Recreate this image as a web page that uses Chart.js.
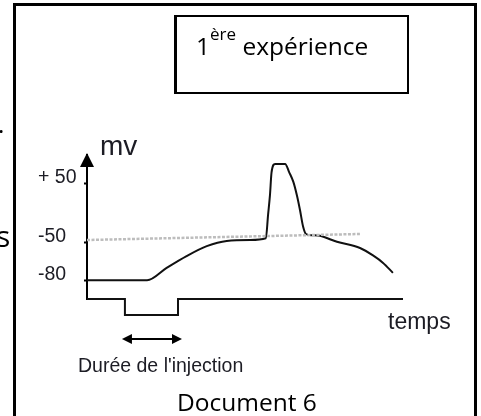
<!DOCTYPE html>
<html>
<head>
<meta charset="utf-8">
<script src="https://cdn.jsdelivr.net/npm/chart.js@4.4.1/dist/chart.umd.min.js"></script>
<style>
  body { margin: 0; background: #fff; overflow: hidden; }
  #page { position: relative; width: 481px; height: 416px; overflow: hidden; }
  #chart { position: absolute; left: 0; top: 0; }
  .frame { position: absolute; left: 13px; top: 3px; width: 458px; height: 430px;
    border: 3px solid #000; border-bottom: none; }
  .titlebox { position: absolute; left: 174px; top: 15px; width: 230px; height: 75px;
    border: 2px solid #000; border-left-width: 3px; }
  .txt { position: absolute; font-family: "Open Sans", sans-serif; color: #000;
    line-height: 24px; white-space: nowrap; }
  .txt sup { font-size: 17px; line-height: 0; vertical-align: 15px; }
</style>
</head>
<body>
<div id="page">
  <canvas id="chart" width="481" height="416"></canvas>
  <div class="frame"></div>
  <div class="titlebox"></div>
  <div class="txt" style="left:196px; top:34px; font-size:24.5px;">1<sup>ère</sup> expérience</div>
  <div class="txt" style="left:177px; top:390px; font-size:24.5px;">Document 6</div>
  <div class="txt" style="left:-2px; top:112px; font-size:24px;">.</div>
  <div class="txt" style="left:-4px; top:221px; font-size:30px; line-height:30px;">s</div>
</div>
<script>
// membrane potential (mV) against time (arbitrary units)
const timeValues = [0, 19, 25.2, 31.5, 37.9, 44.2, 51.6, 56.6, 57.3, 57.9, 58.4, 59.5, 62.7,
  64.0, 65.3, 66.4, 67.4, 68.4, 69.3, 71.2, 73.7, 79.1, 86.4, 90.5, 93.7, 96.8];
const potentialValues = [-80, -80, -70, -60.5, -52.5, -46.5, -45, -42, -3, 30, 68, 82, 82,
  68, 52, 30, 5, -23, -35, -37, -38, -48, -54, -60, -66, -74];

// threshold (dotted grey line)
const thresholdTimes = [0, 86.4];
const thresholdValues = [-45, -35];

// current injection trace
const stimulusTimes = [0, 12, 12, 28.8, 28.8, 100];
const stimulusValues = [0, 0, -1, -1, 0, 0];

const yTickValues = [-80, -50, 50];
const yTickLabels = ['-80', '-50', '+ 50'];

const axisFont = 'Liberation Sans, Arial, sans-serif';

// hand-drawn axis: the part below -50 mV is stretched
class KneeScale extends Chart.LinearScale {
  getPixelForValue(value) {
    const knee = this.options.knee;
    const f = this.options.kneeFraction;
    let dec;
    if (value <= knee) {
      dec = (value - this.min) / (knee - this.min) * f;
    } else {
      dec = f + (value - knee) / (this.max - knee) * (1 - f);
    }
    return this.getPixelForDecimal(dec);
  }

  getValueForPixel(pixel) {
    const knee = this.options.knee;
    const f = this.options.kneeFraction;
    const dec = this.getDecimalForPixel(pixel);
    if (dec <= f) return this.min + dec / f * (knee - this.min);
    return knee + (dec - f) / (1 - f) * (this.max - knee);
  }
}
KneeScale.id = 'knee';
KneeScale.defaults = {};
Chart.register(KneeScale);

function pts(xs, ys) {
  return xs.map((x, i) => ({ x: x, y: ys[i] }));
}

const sketchLabels = {
  id: 'sketchLabels',
  afterDraw(chart) {
    const ctx = chart.ctx;
    const x = chart.scales.x;
    const area = chart.chartArea;
    ctx.save();
    ctx.fillStyle = '#000';
    ctx.strokeStyle = '#000';

    // arrow head on the potential axis
    ctx.beginPath();
    ctx.moveTo(area.left, area.top - 2);
    ctx.lineTo(area.left - 7, area.top + 12);
    ctx.lineTo(area.left + 7, area.top + 12);
    ctx.closePath();
    ctx.fill();

    // double arrow under the injection
    const a = x.getPixelForValue(stimulusTimes[1]) - 3;
    const b = x.getPixelForValue(stimulusTimes[3]) + 4;
    const ay = 339;
    ctx.lineWidth = 2;
    ctx.beginPath();
    ctx.moveTo(a + 6, ay);
    ctx.lineTo(b - 6, ay);
    ctx.stroke();
    ctx.beginPath();
    ctx.moveTo(a, ay);
    ctx.lineTo(a + 10, ay - 5);
    ctx.lineTo(a + 10, ay + 5);
    ctx.closePath();
    ctx.fill();
    ctx.beginPath();
    ctx.moveTo(b, ay);
    ctx.lineTo(b - 10, ay - 5);
    ctx.lineTo(b - 10, ay + 5);
    ctx.closePath();
    ctx.fill();

    ctx.fillStyle = '#1c1c24';
    ctx.textAlign = 'left';
    ctx.textBaseline = 'alphabetic';
    ctx.font = '28px ' + axisFont;
    ctx.fillText('mv', area.left + 13, area.top);
    ctx.font = '23px ' + axisFont;
    ctx.fillText('temps', area.right - 15, 329);
    ctx.font = '19.5px ' + axisFont;
    ctx.fillText("Durée de l'injection", 78, 372);
    ctx.restore();
  }
};

new Chart(document.getElementById('chart'), {
  type: 'line',
  data: {
    datasets: [
      {
        label: 'seuil',
        data: pts(thresholdTimes, thresholdValues),
        borderColor: '#bdbdbd',
        borderWidth: 2.5,
        borderDash: [3, 1.5],
        pointRadius: 0,
        yAxisID: 'y'
      },
      {
        label: 'potentiel',
        data: pts(timeValues, potentialValues),
        borderColor: '#111',
        borderWidth: 2,
        pointRadius: 0,
        cubicInterpolationMode: 'monotone',
        yAxisID: 'y'
      },
      {
        label: 'injection',
        data: pts(stimulusTimes, stimulusValues),
        borderColor: '#111',
        borderWidth: 2,
        pointRadius: 0,
        tension: 0,
        clip: false,
        yAxisID: 'y2'
      }
    ]
  },
  options: {
    responsive: false,
    animation: false,
    layout: {
      padding: { left: 38, top: 155, right: 78, bottom: 117 }
    },
    plugins: {
      legend: { display: false },
      tooltip: { enabled: false }
    },
    scales: {
      x: {
        type: 'linear',
        display: false,
        min: 0,
        max: 100
      },
      y: {
        type: 'knee',
        position: 'left',
        min: -95,
        max: 97,
        knee: -50,
        kneeFraction: 0.389,
        afterFit: (scale) => { scale.width = 49; },
        afterBuildTicks: (scale) => {
          scale.ticks = yTickValues.map((v) => ({ value: v }));
        },
        border: { display: true, color: '#000', width: 2 },
        grid: { drawOnChartArea: false, drawTicks: true, tickLength: 3, tickColor: '#000', tickWidth: 2 },
        ticks: {
          crossAlign: 'far',
          labelOffset: -6,
          color: '#1c1c24',
          font: { family: axisFont, size: 19.5 },
          callback: (value, index) => yTickLabels[index]
        }
      },
      y2: {
        type: 'linear',
        display: false,
        min: 0,
        max: 9
      }
    }
  },
  plugins: [sketchLabels]
});
</script>
</body>
</html>
